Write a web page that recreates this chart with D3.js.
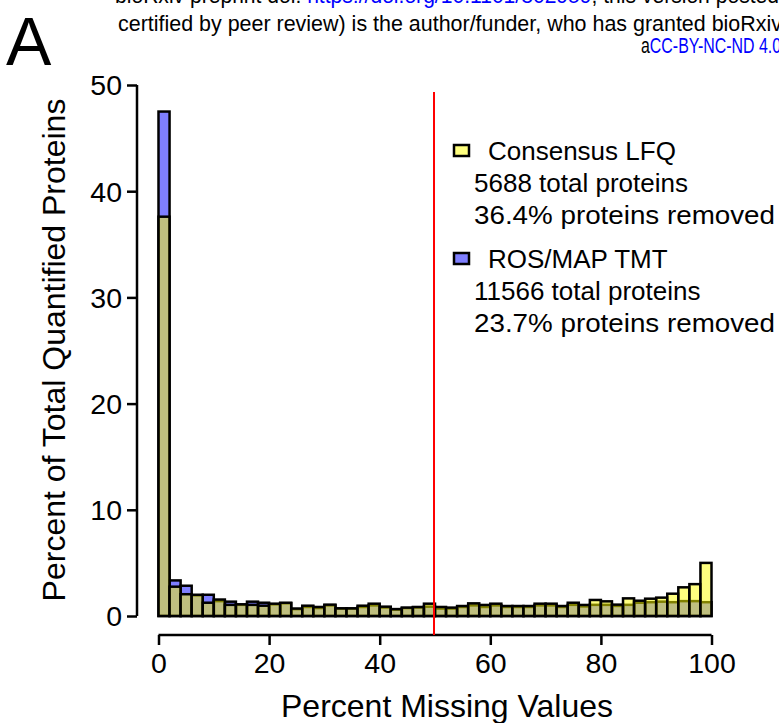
<!DOCTYPE html>
<html><head><meta charset="utf-8">
<script src="https://cdn.jsdelivr.net/npm/d3@7"></script>
<style>body{margin:0;background:#fff;} svg{display:block;font-family:"Liberation Sans",Arial,sans-serif;}</style>
</head><body>
<svg id="c" width="779" height="723"></svg>
<script>
// bin edges 0..100 step 2
const binStarts = d3.range(0, 100, 2);
const lfqValues = [37.6,2.76,2.05,2.0,1.25,1.55,1.05,1.1,1.05,0.97,1.16,1.25,0.7,0.97,0.85,1.07,0.72,0.72,0.97,1.16,0.88,0.65,0.79,0.85,1.16,0.85,0.79,0.94,1.19,1.04,1.16,0.94,0.94,0.94,1.16,1.16,0.94,1.25,1.04,1.51,1.38,1.07,1.66,1.44,1.63,1.73,2.1,2.7,3.0,5.0];
const tmtValues = [47.5,3.35,2.85,1.95,2.0,1.4,1.35,1.05,1.35,1.25,1.1,1.2,0.65,0.85,0.75,1.0,0.7,0.7,0.85,1.0,0.8,0.6,0.75,0.8,0.88,0.7,0.7,0.85,1.0,0.85,1.0,0.85,0.85,0.85,1.0,1.0,0.85,1.05,0.9,1.05,1.05,0.95,1.05,1.25,1.3,1.35,1.3,1.4,1.4,1.3];
const xTicks = [0,20,40,60,80,100];
const yTicks = [0,10,20,30,40,50];
const cutoff = 50;
const legendItems = [
  {name:"Consensus LFQ", lines:["5688 total proteins","36.4% proteins removed"], color:"rgba(255,255,0,0.5)"},
  {name:"ROS/MAP TMT", lines:["11566 total proteins","23.7% proteins removed"], color:"rgba(0,0,255,0.5)"}
];

const svg = d3.select("#c");
const x = d3.scaleLinear().domain([0,100]).range([158.5,711.5]);
const y = d3.scaleLinear().domain([0,50]).range([616,85]);

// header watermark
svg.append("text").attr("x",115).attr("y",3).attr("font-size",22)
  .attr("textLength",664).attr("lengthAdjust","spacingAndGlyphs")
  .html('bioRxiv preprint doi: <tspan fill="#0000ff">https://doi.org/10.1101/802959</tspan>; this version posted');
svg.append("text").attr("x",118).attr("y",31).attr("font-size",22)
  .attr("textLength",664).attr("lengthAdjust","spacingAndGlyphs")
  .text("certified by peer review) is the author/funder, who has granted bioRxiv");
svg.append("text").attr("x",641).attr("y",53).attr("font-size",22)
  .attr("textLength",140).attr("lengthAdjust","spacingAndGlyphs")
  .html('a<tspan fill="#0000ff">CC-BY-NC-ND 4.0</tspan>');
svg.append("text").attr("x",6).attr("y",65).attr("font-size",68).text("A");

// bars: blue first, then yellow
const g = svg.append("g");
function drawBars(vals, col){
  g.selectAll(null).data(vals).enter().append("rect")
    .attr("x",(d,i)=>x(binStarts[i]))
    .attr("width",(d,i)=>x(binStarts[i]+2)-x(binStarts[i]))
    .attr("y",d=>y(d)).attr("height",d=>y(0)-y(d))
    .attr("fill",col).attr("stroke","#000").attr("stroke-width",2.5);
}
drawBars(tmtValues,"rgba(0,0,255,0.5)");
drawBars(lfqValues,"rgba(255,255,0,0.5)");

// axes
const yAxis = d3.axisLeft(y).tickValues(yTicks).tickSize(10).tickPadding(5);
const ya = svg.append("g").attr("transform","translate(137,0)").call(yAxis);
const xAxis = d3.axisBottom(x).tickValues(xTicks).tickSize(10).tickPadding(8);
const xa = svg.append("g").attr("transform","translate(0,635)").call(xAxis);
xa.select(".domain").attr("d",`M${x(0)},0H${x(100)}`);
ya.select(".domain").attr("d",`M0,${y(0)}V${y(50)}`);
[ya,xa].forEach(a=>{
  a.selectAll("path,line").attr("stroke","#000").attr("stroke-width",2.5);
  a.selectAll("text").attr("font-size",28.5).attr("fill","#000").attr("font-family","Liberation Sans, Arial, sans-serif");
});
ya.selectAll("text").attr("dy","0.35em");

// cutoff line
svg.append("line").attr("x1",x(cutoff)-1).attr("x2",x(cutoff)-1).attr("y1",92).attr("y2",635)
  .attr("stroke","#ff0000").attr("stroke-width",2);

// axis titles
svg.append("text").attr("x",447).attr("y",717).attr("text-anchor","middle").attr("font-size",32)
  .text("Percent Missing Values");
svg.append("text").attr("transform","translate(65,350) rotate(-90)").attr("text-anchor","middle").attr("font-size",32)
  .text("Percent of Total Quantified Proteins");

// legend
const legendWidths = [[190],[ ,226,301]];
legendItems.forEach((it,k)=>{
  const by = 160 + k*108;
  svg.append("rect").attr("x",454).attr("y",by-15).attr("width",15).attr("height",11)
    .attr("fill",it.color).attr("stroke","#000").attr("stroke-width",2.5);
  svg.append("text").attr("x",488).attr("y",by).attr("font-size",26).text(it.name);
  it.lines.forEach((l,j)=>{
    const t = svg.append("text").attr("x",474).attr("y",by+32*(j+1)).attr("font-size",26).text(l);
    if(j===1) t.attr("textLength",301).attr("lengthAdjust","spacingAndGlyphs");
  });
});
</script>
</body></html>
